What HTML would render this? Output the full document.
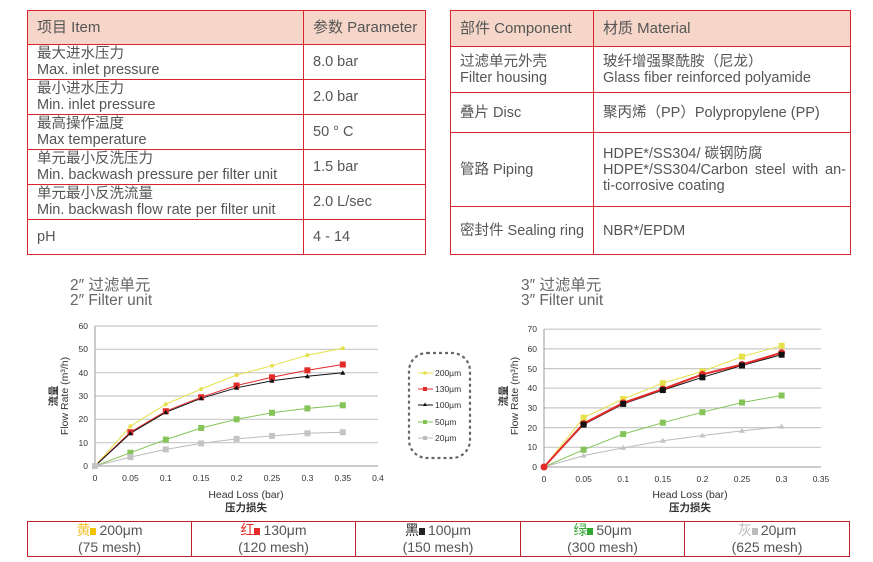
<!DOCTYPE html>
<html><head><meta charset="utf-8"><style>
body{margin:0;width:873px;height:562px;background:#fff;position:relative;font-family:"Liberation Sans","Noto Sans CJK SC",sans-serif;color:#555;overflow:hidden}
.c{position:absolute;box-sizing:border-box;border:1px solid #d9232d;font-size:14.5px;line-height:16px;padding-left:9px;display:flex;flex-direction:column;justify-content:center;white-space:nowrap}
.h{background:#f5d6c9;font-size:15px}
.b{position:absolute;box-sizing:border-box;border:1px solid #c0202a;font-size:14px;line-height:17px;text-align:center;display:flex;flex-direction:column;justify-content:center;color:#555;top:521px;height:36px}
.sq{display:inline-block;width:6px;height:7px;margin-right:3px}
</style></head><body>
<div class="c h" style="left:27px;top:10px;width:277px;height:35px">项目 Item</div>
<div class="c h" style="left:303px;top:10px;width:123px;height:35px">参数 Parameter</div>
<div class="c" style="left:27px;top:44px;width:277px;height:36px"><div>最大进水压力</div><div>Max. inlet pressure</div></div>
<div class="c" style="left:303px;top:44px;width:123px;height:36px">8.0 bar</div>
<div class="c" style="left:27px;top:79px;width:277px;height:36px"><div>最小进水压力</div><div>Min. inlet pressure</div></div>
<div class="c" style="left:303px;top:79px;width:123px;height:36px">2.0 bar</div>
<div class="c" style="left:27px;top:114px;width:277px;height:36px"><div>最高操作温度</div><div>Max temperature</div></div>
<div class="c" style="left:303px;top:114px;width:123px;height:36px">50 ° C</div>
<div class="c" style="left:27px;top:149px;width:277px;height:36px"><div>单元最小反洗压力</div><div>Min. backwash pressure per filter unit</div></div>
<div class="c" style="left:303px;top:149px;width:123px;height:36px">1.5 bar</div>
<div class="c" style="left:27px;top:184px;width:277px;height:36px"><div>单元最小反洗流量</div><div>Min. backwash flow rate per filter unit</div></div>
<div class="c" style="left:303px;top:184px;width:123px;height:36px">2.0 L/sec</div>
<div class="c" style="left:27px;top:219px;width:277px;height:36px">pH</div>
<div class="c" style="left:303px;top:219px;width:123px;height:36px">4 - 14</div>
<div class="c h" style="left:450px;top:10px;width:144px;height:37px">部件 Component</div>
<div class="c h" style="left:593px;top:10px;width:258px;height:37px">材质 Material</div>
<div class="c" style="left:450px;top:46px;width:144px;height:47px"><div>过滤单元外壳</div><div>Filter housing</div></div>
<div class="c" style="left:593px;top:46px;width:258px;height:47px"><div>玻纤增强聚酰胺（尼龙）</div><div>Glass fiber reinforced polyamide</div></div>
<div class="c" style="left:450px;top:92px;width:144px;height:41px">叠片 Disc</div>
<div class="c" style="left:593px;top:92px;width:258px;height:41px">聚丙烯（PP）Polypropylene (PP)</div>
<div class="c" style="left:450px;top:132px;width:144px;height:75px">管路 Piping</div>
<div class="c" style="left:593px;top:132px;width:258px;height:75px;padding-right:4px"><div>HDPE*/SS304/ 碳钢防腐</div><div style="text-align:justify;text-align-last:justify;white-space:normal">HDPE*/SS304/Carbon steel with an-</div><div>ti-corrosive coating</div></div>
<div class="c" style="left:450px;top:206px;width:144px;height:49px">密封件 Sealing ring</div>
<div class="c" style="left:593px;top:206px;width:258px;height:49px">NBR*/EPDM</div>

<svg width="873" height="562" style="position:absolute;left:0;top:0" font-family="Liberation Sans, Noto Sans CJK SC, sans-serif">
<g fill="#666" font-size="15.5"><text x="70" y="290">2″ 过滤单元</text><text x="70" y="305">2″ Filter unit</text>
<text x="521" y="290">3″ 过滤单元</text><text x="521" y="305">3″ Filter unit</text></g>
<g stroke="#c8c8c8" stroke-width="1.2">
<line x1="95" x2="378" y1="442.7" y2="442.7"/><line x1="95" x2="378" y1="419.3" y2="419.3"/><line x1="95" x2="378" y1="396" y2="396"/><line x1="95" x2="378" y1="372.7" y2="372.7"/><line x1="95" x2="378" y1="349.3" y2="349.3"/><line x1="95" x2="378" y1="326" y2="326"/>
<line x1="544" x2="821" y1="447.3" y2="447.3"/><line x1="544" x2="821" y1="427.6" y2="427.6"/><line x1="544" x2="821" y1="407.9" y2="407.9"/><line x1="544" x2="821" y1="388.2" y2="388.2"/><line x1="544" x2="821" y1="368.6" y2="368.6"/><line x1="544" x2="821" y1="348.9" y2="348.9"/><line x1="544" x2="821" y1="329.2" y2="329.2"/>
</g>
<g stroke="#999" stroke-width="1"><line x1="95" y1="326" x2="95" y2="466"/><line x1="95" y1="466" x2="378" y2="466"/>
<line x1="544" y1="329" x2="544" y2="467"/><line x1="544" y1="467" x2="821" y2="467"/></g>
<g font-size="8.5" fill="#333" text-anchor="end">
<text x="88" y="469">0</text><text x="88" y="446">10</text><text x="88" y="422">20</text><text x="88" y="399">30</text><text x="88" y="376">40</text><text x="88" y="352">50</text><text x="88" y="329">60</text>
<text x="537" y="470">0</text><text x="537" y="450">10</text><text x="537" y="431">20</text><text x="537" y="411">30</text><text x="537" y="391">40</text><text x="537" y="372">50</text><text x="537" y="352">60</text><text x="537" y="332">70</text>
</g>
<g font-size="8.5" fill="#333" text-anchor="middle">
<text x="95" y="481">0</text><text x="130.4" y="481">0.05</text><text x="165.8" y="481">0.1</text><text x="201.2" y="481">0.15</text><text x="236.6" y="481">0.2</text><text x="272" y="481">0.25</text><text x="307.4" y="481">0.3</text><text x="342.8" y="481">0.35</text><text x="378" y="481">0.4</text>
<text x="544" y="482">0</text><text x="583.6" y="482">0.05</text><text x="623.2" y="482">0.1</text><text x="662.8" y="482">0.15</text><text x="702.4" y="482">0.2</text><text x="742" y="482">0.25</text><text x="781.6" y="482">0.3</text><text x="821" y="482">0.35</text>
</g>
<g font-size="10.5" fill="#333" text-anchor="middle">
<text x="246" y="498">Head Loss (bar)</text><text x="246" y="511" font-weight="bold">压力损失</text>
<text x="690" y="498">Head Loss (bar)</text><text x="690" y="511" font-weight="bold">压力损失</text>
<text transform="translate(57,396) rotate(-90)" font-weight="bold">流量</text><text transform="translate(68,396) rotate(-90)">Flow Rate (m³/h)</text>
<text transform="translate(507,396) rotate(-90)" font-weight="bold">流量</text><text transform="translate(518,396) rotate(-90)">Flow Rate (m³/h)</text>
</g>
<g fill="none" stroke-width="1">
<polyline stroke="#e6e04a" points="95,466 130.4,426.3 165.8,404.2 201.2,389 236.6,375 272,365.7 307.4,355.2 342.8,348.2"/>
<polyline stroke="#e52a2a" points="95,466 130.4,432.2 165.8,411.2 201.2,397.2 236.6,385.5 272,377.3 307.4,370.3 342.8,364.5"/>
<polyline stroke="#111" points="95,466 130.4,433.3 165.8,412.3 201.2,398.3 236.6,387.8 272,380.8 307.4,376.2 342.8,372.7"/>
<polyline stroke="#84c458" points="95,466 130.4,452.7 165.8,439.6 201.2,428 236.6,419.3 272,412.8 307.4,408.4 342.8,405.3"/>
<polyline stroke="#bbb" points="95,466 130.4,457.1 165.8,449.4 201.2,443.4 236.6,438.9 272,435.9 307.4,433.3 342.8,432.2"/>
</g>
<g fill="#e6e04a"><circle cx="130.4" cy="426.3" r="2"/><circle cx="165.8" cy="404.2" r="2"/><circle cx="201.2" cy="389" r="2"/><circle cx="236.6" cy="375" r="2"/><circle cx="272" cy="365.7" r="2"/><circle cx="307.4" cy="355.2" r="2"/><circle cx="342.8" cy="348.2" r="2"/></g>
<g fill="#e52a2a"><rect x="127.4" y="429.2" width="6" height="6"/><rect x="162.8" y="408.2" width="6" height="6"/><rect x="198.2" y="394.2" width="6" height="6"/><rect x="233.6" y="382.5" width="6" height="6"/><rect x="269" y="374.3" width="6" height="6"/><rect x="304.4" y="367.3" width="6" height="6"/><rect x="339.8" y="361.5" width="6" height="6"/></g>
<g fill="#111"><polygon points="130.4,430.8 133,435.3 127.8,435.3"/><polygon points="165.8,409.8 168.4,414.3 163.2,414.3"/><polygon points="201.2,395.8 203.8,400.3 198.6,400.3"/><polygon points="236.6,385.3 239.2,389.8 234,389.8"/><polygon points="272,378.3 274.6,382.8 269.4,382.8"/><polygon points="307.4,373.7 310,378.2 304.8,378.2"/><polygon points="342.8,370.2 345.4,374.7 340.2,374.7"/></g>
<g fill="#84c458"><rect x="127.4" y="449.7" width="6" height="6"/><rect x="162.8" y="436.6" width="6" height="6"/><rect x="198.2" y="425" width="6" height="6"/><rect x="233.6" y="416.3" width="6" height="6"/><rect x="269" y="409.8" width="6" height="6"/><rect x="304.4" y="405.4" width="6" height="6"/><rect x="339.8" y="402.3" width="6" height="6"/></g>
<g fill="#c4c4c4"><rect x="127.4" y="454.1" width="6" height="6"/><rect x="162.8" y="446.4" width="6" height="6"/><rect x="198.2" y="440.4" width="6" height="6"/><rect x="233.6" y="435.9" width="6" height="6"/><rect x="269" y="432.9" width="6" height="6"/><rect x="304.4" y="430.3" width="6" height="6"/><rect x="339.8" y="429.2" width="6" height="6"/><rect x="92" y="463" width="6" height="6"/></g>
<rect x="409" y="353" width="61" height="105" rx="18" fill="none" stroke="#666" stroke-width="2.2" stroke-dasharray="3,3"/>
<g font-size="8.5" fill="#333">
<line x1="418" x2="433" y1="373" y2="373" stroke="#e6e04a"/><circle cx="425" cy="373" r="1.8" fill="#e6e04a"/><text x="435" y="376">200µm</text>
<line x1="418" x2="433" y1="389" y2="389" stroke="#e52a2a"/><rect x="423" y="387" width="4" height="4" fill="#e52a2a"/><text x="435" y="392">130µm</text>
<line x1="418" x2="433" y1="405" y2="405" stroke="#111"/><polygon points="425,402.5 427,406 423,406" fill="#111"/><text x="435" y="408">100µm</text>
<line x1="418" x2="433" y1="422" y2="422" stroke="#84c458"/><rect x="423" y="420" width="4" height="4" fill="#84c458"/><text x="435" y="425">50µm</text>
<line x1="418" x2="433" y1="438" y2="438" stroke="#bbb"/><rect x="423" y="436" width="4" height="4" fill="#bbb"/><text x="435" y="441">20µm</text>
</g>
<g fill="none">
<polyline stroke="#e6e04a" stroke-width="1" points="544,467 583.6,417.7 623.2,399 662.8,383.2 702.4,371.4 742,356.6 781.6,345.8"/>
<polyline stroke="#111" stroke-width="1" points="544,467 583.6,424.6 623.2,403.9 662.8,390.1 702.4,377.3 742,365.5 781.6,354.7"/>
<polyline stroke="#e52a2a" stroke-width="2" points="544,467 583.6,423.6 623.2,402.9 662.8,389.1 702.4,374.4 742,364.5 781.6,352.7"/>
<polyline stroke="#84c458" stroke-width="1" points="544,467 583.6,449.7 623.2,434.1 662.8,422.7 702.4,412.2 742,402.5 781.6,395.5"/>
<polyline stroke="#bbb" stroke-width="1" points="544,467 583.6,455.6 623.2,447.9 662.8,440.8 702.4,435.5 742,430.9 781.6,426.6"/>
</g>
<g fill="#e6e04a"><rect x="580.6" y="414.7" width="6" height="6"/><rect x="620.2" y="396" width="6" height="6"/><rect x="659.8" y="380.2" width="6" height="6"/><rect x="699.4" y="368.4" width="6" height="6"/><rect x="739" y="353.6" width="6" height="6"/><rect x="778.6" y="342.8" width="6" height="6"/></g>
<g fill="#e52a2a"><circle cx="583.6" cy="423.6" r="3.5"/><circle cx="623.2" cy="402.9" r="3.5"/><circle cx="662.8" cy="389.1" r="3.5"/><circle cx="702.4" cy="374.4" r="3.5"/><circle cx="742" cy="364.5" r="3.5"/><circle cx="781.6" cy="352.7" r="3.5"/><circle cx="544" cy="467" r="3.5"/></g>
<g fill="#111"><rect x="580.6" y="421.6" width="6" height="6"/><rect x="620.2" y="400.9" width="6" height="6"/><rect x="659.8" y="387.1" width="6" height="6"/><rect x="699.4" y="374.3" width="6" height="6"/><rect x="739" y="362.5" width="6" height="6"/><rect x="778.6" y="351.7" width="6" height="6"/></g>
<g fill="#84c458"><rect x="580.6" y="446.7" width="6" height="6"/><rect x="620.2" y="431.1" width="6" height="6"/><rect x="659.8" y="419.7" width="6" height="6"/><rect x="699.4" y="409.2" width="6" height="6"/><rect x="739" y="399.5" width="6" height="6"/><rect x="778.6" y="392.5" width="6" height="6"/></g>
<g fill="#c4c4c4"><polygon points="583.6,452.6 586.6,457.6 580.6,457.6"/><polygon points="623.2,444.9 626.2,449.9 620.2,449.9"/><polygon points="662.8,437.8 665.8,442.8 659.8,442.8"/><polygon points="702.4,432.5 705.4,437.5 699.4,437.5"/><polygon points="742,427.9 745,432.9 739,432.9"/><polygon points="781.6,423.6 784.6,428.6 778.6,428.6"/></g>
</svg>
<div class="b" style="left:27px;width:165px"><div><span style="color:#f2c12e">黄</span><span class="sq" style="background:#f2c100"></span>200μm</div><div>(75 mesh)</div></div>
<div class="b" style="left:191px;width:165px"><div><span style="color:#e52a2a">红</span><span class="sq" style="background:#e52a2a"></span>130μm</div><div>(120 mesh)</div></div>
<div class="b" style="left:355px;width:166px"><div><span style="color:#222">黑</span><span class="sq" style="background:#222"></span>100μm</div><div>(150 mesh)</div></div>
<div class="b" style="left:520px;width:165px"><div><span style="color:#3aa83a">绿</span><span class="sq" style="background:#2ea82e"></span>50μm</div><div>(300 mesh)</div></div>
<div class="b" style="left:684px;width:166px"><div><span style="color:#bbb">灰</span><span class="sq" style="background:#bbb"></span>20μm</div><div>(625 mesh)</div></div>
</body></html>
